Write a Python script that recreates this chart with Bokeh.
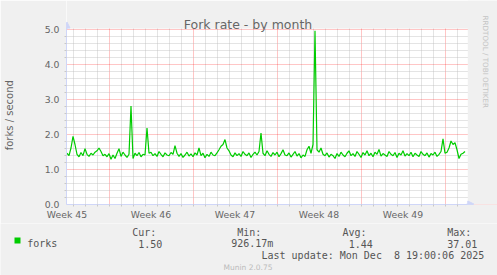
import math
from bokeh.plotting import figure
from bokeh.layouts import column
from bokeh.models import (Range1d, FixedTicker, Label, Arrow, NormalHead,
                          BoxAnnotation, ColumnDataSource, PrintfTickFormatter)
from bokeh.embed import file_html
from bokeh.resources import INLINE

# ---------------- data ----------------
title_text = "Fork rate - by month"
y_label = "forks / second"
week_labels = ["Week 45", "Week 46", "Week 47", "Week 48", "Week 49"]
week_label_days = [0, 7, 14, 21, 28]          # label centres (Thursday noon), days from graph start
monday_days = [3.5, 10.5, 17.5, 24.5, 31.5]   # week boundaries (major grid)
y_ticks = [0, 1, 2, 3, 4, 5]
span_days = 400 / 12
step_days = 1 / 6                              # one sample every 4 hours

forks = [
    1.45, 1.38, 1.60, 1.93, 1.70, 1.42, 1.35, 1.47, 1.38, 1.58,
    1.42, 1.36, 1.45, 1.40, 1.48, 1.52, 1.60, 1.50, 1.38, 1.42,
    1.35, 1.44, 1.28, 1.40, 1.30, 1.45, 1.58, 1.36, 1.48, 1.40,
    1.33, 1.42, 2.80, 1.30, 1.45, 1.38, 1.47, 1.35, 1.42, 1.40,
    2.17, 1.45, 1.48, 1.38, 1.44, 1.36, 1.50, 1.42, 1.35, 1.46,
    1.40, 1.38, 1.47, 1.42, 1.67, 1.45, 1.36, 1.44, 1.33, 1.40,
    1.48, 1.37, 1.43, 1.35, 1.46, 1.40, 1.60, 1.38, 1.45, 1.32,
    1.42, 1.36, 1.48, 1.40, 1.38, 1.46, 1.55, 1.65, 1.70, 1.84,
    1.60, 1.52, 1.40, 1.35, 1.46, 1.38, 1.44, 1.36, 1.50, 1.42,
    1.38, 1.46, 1.33, 1.42, 1.48, 1.40, 1.50, 2.03, 1.45, 1.38,
    1.52, 1.42, 1.36, 1.47, 1.40, 1.48, 1.35, 1.44, 1.55, 1.40,
    1.38, 1.46, 1.34, 1.42, 1.50, 1.37, 1.44, 1.32, 1.40, 1.36,
    1.55, 1.65, 1.45, 1.70, 4.95, 1.55, 1.48, 1.60, 1.42, 1.38,
    1.46, 1.34, 1.42, 1.38, 1.30, 1.44, 1.36, 1.48, 1.40, 1.35,
    1.45, 1.52, 1.38, 1.44, 1.36, 1.50, 1.42, 1.33, 1.47, 1.40,
    1.52, 1.38, 1.45, 1.35, 1.48, 1.42, 1.56, 1.37, 1.44, 1.40,
    1.36, 1.50, 1.42, 1.38, 1.47, 1.33, 1.45, 1.40, 1.52, 1.37,
    1.44, 1.38, 1.48, 1.35, 1.45, 1.40, 1.36, 1.50, 1.42, 1.38,
    1.46, 1.34, 1.44, 1.40, 1.48, 1.36, 1.42, 1.50, 1.86, 1.45,
    1.48, 1.60, 1.80, 1.70, 1.75, 1.55, 1.30, 1.42, 1.45, 1.50,
]
series_name = "forks"
stat_names = ["Cur:", "Min:", "Avg:", "Max:"]
stat_values = ["1.50", "926.17m", "1.44", "37.01"]
last_update = "Last update: Mon Dec \u00a08 19:00:06 2025"
footer = "Munin 2.0.75"
watermark = "RRDTOOL / TOBI OETIKER"

# ---------------- layout ----------------
W = 497
MAIN_H = 223
LEG_H = 275 - MAIN_H
FL, FB = 66, 204            # frame left / bottom of main figure (page px)
PX_DAY, PX_UNIT = 12.0, 35.0

def sx(x):
    return x - FL
def sy(y):
    return FB - y

FONT = "DejaVu Sans"
MONO = "DejaVu Sans Mono"
FONT_COLOR = "#666666"
LEG_COLOR = "#555555"
AXIS_COLOR = "#CFD6F8"
BACK = "#F0F0F0"
GREEN = "#00CC00"

x0 = -0.5 / PX_DAY
y0 = -0.5 / PX_UNIT
p = figure(width=W, height=MAIN_H, output_backend="svg", toolbar_location=None,
           x_range=Range1d(x0, x0 + (W - FL) / PX_DAY),
           y_range=Range1d(y0, y0 + FB / PX_UNIT),
           min_border_left=FL, min_border_right=0,
           min_border_top=0, min_border_bottom=MAIN_H - FB,
           background_fill_color="white", border_fill_color=BACK,
           outline_line_color=None, frame_align=False)
p.title.visible = False

days = [d + 0.5 for d in range(34) if d + 0.5 not in monday_days and d + 0.5 < span_days]
minor_y = [round(0.2 * k, 1) for k in range(25) if k % 5 != 0]

# grids
p.xgrid.ticker = FixedTicker(ticks=monday_days, minor_ticks=days)
p.ygrid.ticker = FixedTicker(ticks=y_ticks, minor_ticks=minor_y)
for g in (p.xgrid, p.ygrid):
    g.grid_line_color = "#FF0000"
    g.grid_line_alpha = 0.45
    g.grid_line_dash = "1 1"
    g.minor_grid_line_color = "#BBBBBB"
    g.minor_grid_line_alpha = 0.8
    g.minor_grid_line_dash = "1 1"

# x axis
xa = p.xaxis[0]
xa.ticker = FixedTicker(ticks=week_label_days, minor_ticks=days + monday_days)
xa.major_label_overrides = {d: lab for d, lab in zip(week_label_days, week_labels)}
xa.bounds = (x0, 33.9)
xa.major_tick_line_color = None
xa.major_tick_out = 0
xa.major_tick_in = 0
xa.minor_tick_line_color = "#C8C8C8"
xa.minor_tick_in = 0
xa.minor_tick_out = 2
xa.axis_line_color = AXIS_COLOR
xa.major_label_standoff = 2
xa.major_label_text_font = FONT
xa.major_label_text_font_size = "9.3px"
xa.major_label_text_color = FONT_COLOR

# y axis
ya = p.yaxis[0]
ya.ticker = FixedTicker(ticks=y_ticks, minor_ticks=minor_y)
ya.formatter = PrintfTickFormatter(format="%.1f")
ya.bounds = (y0, 5.2)
ya.major_tick_line_color = None
ya.major_tick_out = 0
ya.major_tick_in = 0
ya.minor_tick_line_color = "#C8C8C8"
ya.minor_tick_in = 0
ya.minor_tick_out = 2
ya.axis_line_color = AXIS_COLOR
ya.major_label_standoff = 5
ya.major_label_text_font = FONT
ya.major_label_text_font_size = "9.3px"
ya.major_label_text_color = FONT_COLOR
# trailing no-break spaces shift the centred label down onto the plot-area centre
ya.axis_label = y_label + "\u00a0" * 8
ya.axis_label_text_font = FONT
ya.axis_label_text_font_size = "10px"
ya.axis_label_text_font_style = "normal"
ya.axis_label_text_color = FONT_COLOR
ya.axis_label_standoff = 27

# data line
src = ColumnDataSource(dict(t=[i * step_days for i in range(len(forks))], v=forks))
p.line("t", "v", source=src, line_color=GREEN, line_width=1.2)

# grey margin strips above 5.0 and right of the graph end
p.add_layout(BoxAnnotation(bottom=5.0 + 0.5 / PX_UNIT, fill_color=BACK, fill_alpha=1.0,
                           line_color=None))
p.add_layout(BoxAnnotation(left=33.4, fill_color=BACK, fill_alpha=1.0, line_color=None))

# axis arrows
head = dict(size=6, fill_color=AXIS_COLOR, line_color=AXIS_COLOR)
p.add_layout(Arrow(end=NormalHead(**head), x_start=0, y_start=5.0, x_end=0, y_end=5.2,
                   line_color=AXIS_COLOR, line_width=1))
p.add_layout(Arrow(end=NormalHead(**head), x_start=33.3, y_start=0, x_end=33.9, y_end=0,
                   line_color=AXIS_COLOR, line_width=1))

def label(fig, text, x, y, size, font=FONT, color=FONT_COLOR, align="left", angle=0.0):
    fig.add_layout(Label(text=text, x=x, y=y, x_units="screen", y_units="screen",
                         text_font=font, text_font_size=size, text_color=color,
                         text_align=align, text_baseline="alphabetic", angle=angle))

label(p, title_text, sx(247.5), sy(24), "12.5px", align="center")
label(p, watermark, sx(485), sy(15), "7.2px", color="#C4C4C4", angle=-math.pi / 2)

# ---------------- legend strip ----------------
leg = figure(width=W, height=LEG_H, output_backend="svg", toolbar_location=None,
             x_range=Range1d(0, W), y_range=Range1d(0, LEG_H),
             min_border=0, min_border_left=0, min_border_right=0,
             min_border_top=0, min_border_bottom=0,
             x_axis_location=None, y_axis_location=None, frame_align=False,
             background_fill_color=BACK, border_fill_color=BACK, outline_line_color=None)
leg.grid.visible = False

def ly(y):
    return 275 - y

leg.add_layout(BoxAnnotation(left=14, right=20, bottom=ly(243), top=ly(237),
                             fill_color=GREEN, fill_alpha=1.0, line_color=None))
label(leg, series_name, 26.7, ly(243), "10px", font=MONO, color=LEG_COLOR)
name_x = [131.7, 236.7, 342, 446.7]
value_x = [137.7, 230.7, 348.3, 446.7]
for n, v, nx, vx in zip(stat_names, stat_values, name_x, value_x):
    label(leg, n, nx, ly(231.5), "10px", font=MONO, color=LEG_COLOR)
    label(leg, v, vx, ly(243), "10px", font=MONO, color=LEG_COLOR)
label(leg, last_update, 261, ly(255), "10px", font=MONO, color=LEG_COLOR)
label(leg, footer, 247.5, ly(266.5), "7.5px", color="#BBBBBB", align="center")

layout = column(p, leg, spacing=0)
open("out.html", "w").write(file_html(layout, INLINE))
